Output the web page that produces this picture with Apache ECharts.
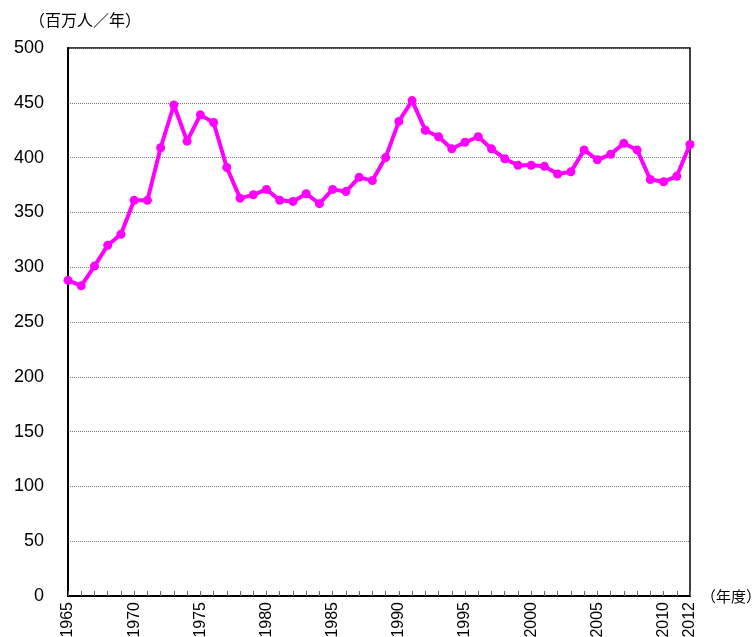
<!DOCTYPE html>
<html>
<head>
<meta charset="utf-8">
<script src="https://cdn.jsdelivr.net/npm/echarts@6/dist/echarts.min.js"></script>
<style>
  html, body { margin: 0; padding: 0; background: #fff; }
  #chart { width: 752px; height: 637px; }
</style>
</head>
<body>
<div id="chart"></div>
<script>
// 年度
const years = []
for (let y = 1965; y <= 2012; y++) years.push(String(y))

// 輸送人員（百万人／年）
const passengers = [
  288, 283, 301, 320, 330, 361, 361, 409, 448, 415,
  439, 432, 391, 363, 366, 371, 361, 360, 367, 358,
  371, 369, 382, 379, 400, 433, 452, 425, 419, 408,
  414, 419, 408, 399, 393, 393, 392, 385, 387, 407,
  398, 403, 413, 407, 380, 378, 383, 412
]

const yTicks = { min: 0, max: 500, interval: 50 }

const chart = echarts.init(document.getElementById('chart'))

chart.setOption({
  animation: false,
  title: {
    text: '（百万人／年）',
    left: 24,
    top: 7,
    textStyle: {
      fontFamily: 'Noto Sans CJK JP',
      fontSize: 16,
      fontWeight: 'normal',
      color: '#000'
    }
  },
  grid: {
    left: 68,
    right: 62,
    top: 48,
    bottom: 41,
    outerBoundsMode: 'none',
    containLabel: false,
    show: true,
    borderColor: '#000',
    borderWidth: 1.5
  },
  xAxis: {
    type: 'category',
    data: years,
    boundaryGap: false,
    name: '（年度）',
    nameLocation: 'end',
    nameGap: 8,
    nameTextStyle: {
      fontFamily: 'Noto Sans CJK JP',
      fontSize: 15,
      color: '#000',
      verticalAlign: 'middle'
    },
    axisLine: { lineStyle: { color: '#000', width: 2 } },
    axisTick: {
      inside: true,
      length: 5,
      interval: 0,
      lineStyle: { color: '#666' }
    },
    axisLabel: {
      rotate: 90,
      interval: (i, v) => Number(v) % 5 === 0 || v === '2012',
      fontFamily: 'Liberation Sans',
      fontSize: 16,
      color: '#000',
      margin: 6
    },
    splitLine: { show: false }
  },
  yAxis: {
    type: 'value',
    min: yTicks.min,
    max: yTicks.max,
    interval: yTicks.interval,
    axisLine: { show: true, lineStyle: { color: '#000', width: 2 } },
    axisTick: { show: false },
    axisLabel: {
      fontFamily: 'Liberation Sans',
      fontSize: 18,
      color: '#000',
      margin: 24
    },
    splitLine: {
      lineStyle: { color: '#777', type: 'dotted', width: 1 }
    }
  },
  series: [
    {
      type: 'line',
      data: passengers,
      showAllSymbol: true,
      symbol: 'circle',
      symbolSize: 9,
      lineStyle: { color: '#ff00ff', width: 4 },
      itemStyle: { color: '#ff00ff' }
    }
  ]
})
</script>
</body>
</html>
